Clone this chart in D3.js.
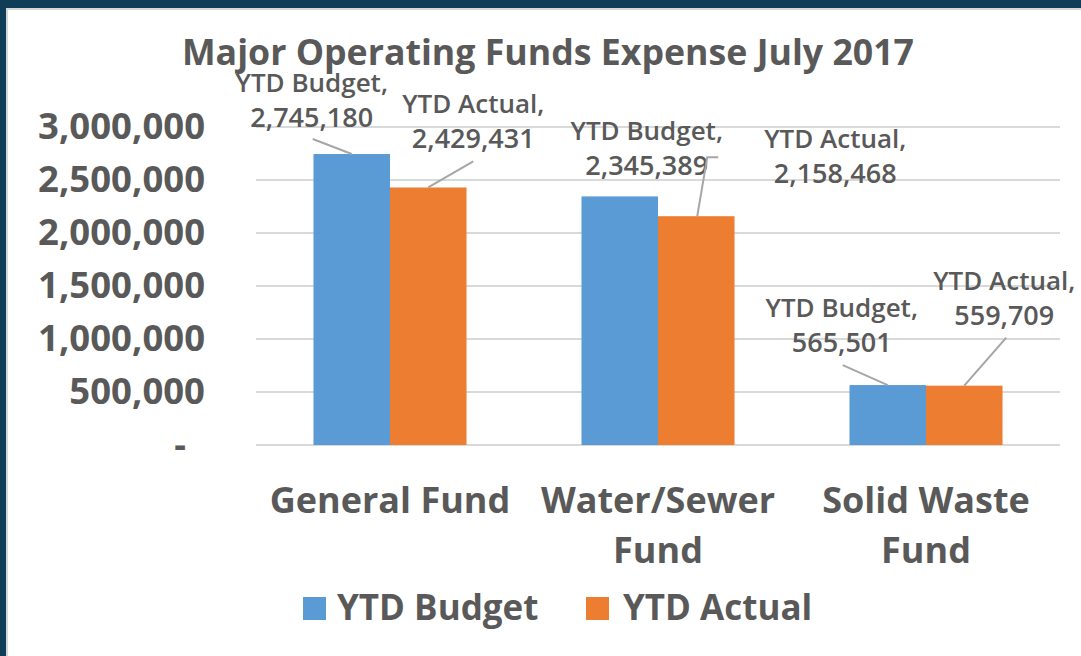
<!DOCTYPE html>
<html>
<head>
<meta charset="utf-8">
<script src="https://cdn.jsdelivr.net/npm/d3@7"></script>
<style>
  html, body { margin: 0; padding: 0; background: #0f3c57; }
  svg { display: block; }
  text { font-family: "Open Sans", "Noto Sans", sans-serif; fill: #595959; }
</style>
</head>
<body>
<svg id="chart" width="1081" height="656"></svg>
<script>
// ---- data ----
const title = "Major Operating Funds Expense July 2017";
const categories = ["General Fund", "Water/Sewer Fund", "Solid Waste Fund"];
const seriesNames = ["YTD Budget", "YTD Actual"];
const ytdBudget = [2745180, 2345389, 565501];
const ytdActual = [2429431, 2158468, 559709];
const yTicks = [0, 500000, 1000000, 1500000, 2000000, 2500000, 3000000];
const colors = ["#5b9bd5", "#ed7d31"];

// label placement relative to bar top centre (layout, not data)
const labelLayout = [
  [ {dx: -40, dy: -27, lead: [[-39, -15], [0, 0]]},
    {dx: 27, dy: -21, lead: null},
    {dx: -46, dy: -33, lead: [[-45, -20], [0, 0]]} ],
  [ {dx: 45, dy: -39, lead: [[45, -26], [0, 0]]},
    {dx: 139, dy: -33, lead: [[22, -59], [11, -59], [1, 0]]},
    {dx: 40, dy: -61, lead: [[42, -48], [0, 0]]} ]
];

const seriesValues = [ytdBudget, ytdActual];

const W = 1081, H = 656;
const svg = d3.select("#chart");

// background panel
svg.append("rect").attr("x", 0).attr("y", 0).attr("width", W).attr("height", H).attr("fill", "#0f3c57");
svg.append("rect").attr("x", 6).attr("y", 8).attr("width", W - 6).attr("height", H - 8).attr("fill", "#d6d6d6");
svg.append("rect").attr("x", 8).attr("y", 10).attr("width", W - 8).attr("height", H - 10).attr("fill", "#ffffff");

const plot = {left: 256, right: 1060, top: 127, bottom: 445};

const y = d3.scaleLinear().domain([0, 3000000]).range([plot.bottom, plot.top]);
const x0 = d3.scaleBand().domain(categories).range([plot.left, plot.right])
  .paddingInner(0.429).paddingOuter(0.2145);
const x1 = d3.scaleBand().domain(seriesNames).range([0, x0.bandwidth()]);

// gridlines
svg.append("g").selectAll("line").data(yTicks).join("line")
  .attr("x1", plot.left).attr("x2", plot.right)
  .attr("y1", d => y(d)).attr("y2", d => y(d))
  .attr("stroke", "#d9d9d9").attr("stroke-width", 2);

// y axis
const yAxis = d3.axisLeft(y).tickValues(yTicks).tickSize(0).tickPadding(51)
  .tickFormat(d => d === 0 ? "-" : d3.format(",")(d));
const gy = svg.append("g").attr("transform", `translate(${plot.left},0)`).call(yAxis);
gy.select(".domain").remove();
gy.selectAll("text")
  .style("font-size", "36.5px").style("font-weight", 700).attr("fill", "#595959")
  .attr("dx", d => d === 0 ? -19 : 0);

// bars
const groups = svg.append("g").selectAll("g").data(categories).join("g")
  .attr("transform", d => `translate(${x0(d)},0)`);
groups.selectAll("rect")
  .data((c, i) => seriesNames.map((s, si) => ({s, si, v: seriesValues[si][i]})))
  .join("rect")
  .attr("x", d => x1(d.s)).attr("width", x1.bandwidth())
  .attr("y", d => y(d.v)).attr("height", d => y(0) - y(d.v))
  .attr("fill", d => colors[d.si]);

// data labels + leader lines
const fmt = d3.format(",");
seriesNames.forEach((s, si) => {
  categories.forEach((c, ci) => {
    const v = seriesValues[si][ci];
    const bx = x0(c) + x1(s) + x1.bandwidth() / 2;
    const by = y(v);
    const L = labelLayout[si][ci];
    if (L.lead) {
      svg.append("path")
        .attr("d", d3.line()(L.lead.map(p => [bx + p[0], by + p[1]])))
        .attr("fill", "none").attr("stroke", "#a6a6a6").attr("stroke-width", 2);
    }
    const t = svg.append("text").attr("text-anchor", "middle")
      .style("font-weight", 600);
    t.append("tspan").attr("x", bx + L.dx).attr("y", by + L.dy - 35)
      .style("font-size", "26px").text(s + ",");
    t.append("tspan").attr("x", bx + L.dx).attr("y", by + L.dy)
      .style("font-size", "27px").text(fmt(v));
  });
});

// x axis category labels (wrapped)
const xAxis = d3.axisBottom(x0).tickSize(0).tickPadding(0);
const gx = svg.append("g").attr("transform", `translate(0,${plot.bottom})`).call(xAxis);
gx.select(".domain").remove();
gx.selectAll("text")
  .style("font-size", "36px").style("font-weight", 700).attr("fill", "#595959")
  .attr("y", 0).attr("dy", 0)
  .each(function (d) {
    const el = d3.select(this);
    const words = d.split(" ");
    el.text(null);
    let lines = [], cur = [];
    const probe = el.append("tspan");
    words.forEach(w => {
      const trial = cur.concat(w).join(" ");
      probe.text(trial);
      if (probe.node().getComputedTextLength() > 250 && cur.length) {
        lines.push(cur.join(" "));
        cur = [w];
      } else cur.push(w);
    });
    lines.push(cur.join(" "));
    probe.remove();
    lines.forEach((ln, i) => {
      el.append("tspan").attr("x", 0).attr("y", 68 + i * 50).text(ln);
    });
  });

// title
svg.append("text").attr("x", 548).attr("y", 65).attr("text-anchor", "middle")
  .style("font-size", "35.7px").style("font-weight", 700).text(title);

// legend
const legendItems = [
  {name: seriesNames[0], color: colors[0], sx: 303, tx: 337},
  {name: seriesNames[1], color: colors[1], sx: 586, tx: 623}
];
const lg = svg.append("g");
legendItems.forEach(it => {
  lg.append("rect").attr("x", it.sx).attr("y", 597).attr("width", 23).attr("height", 23).attr("fill", it.color);
  lg.append("text").attr("x", it.tx).attr("y", 620)
    .style("font-size", "35px").style("font-weight", 700).text(it.name);
});
</script>
</body>
</html>
